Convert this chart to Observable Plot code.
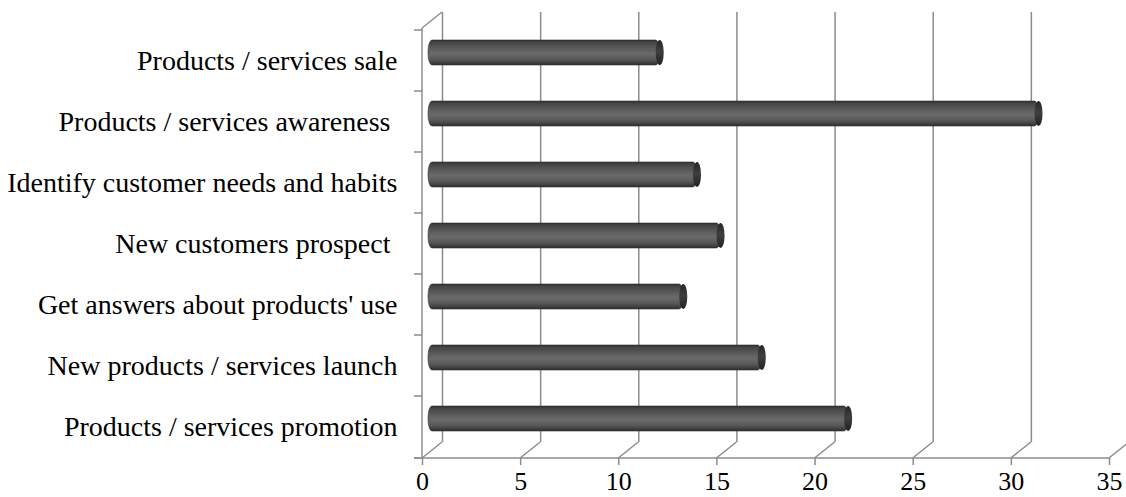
<!DOCTYPE html>
<html><head><meta charset="utf-8">
<script src="https://cdn.jsdelivr.net/npm/d3@7"></script>
<script src="https://cdn.jsdelivr.net/npm/@observablehq/plot@0.6"></script>
<style>
body{margin:0;background:#fff}
svg text{white-space:pre}
</style>
</head><body><div id="chart"></div>
<script>
const categories = [
  "Products / services sale",
  "Products / services awareness ",
  "Identify customer needs and habits",
  "New customers prospect ",
  "Get answers about products' use",
  "New products / services launch",
  "Products / services promotion"
];
const values = [11.6, 30.9, 13.5, 14.7, 12.8, 16.8, 21.2];
const xTicks = [0, 5, 10, 15, 20, 25, 30, 35];

const data = categories.map((c, i) => ({category: c, value: values[i]}));

const W = 1126, H = 497;
const BX = 20, BY = -16;   // back wall offset
const MX = 10, MY = -8;    // bar depth offset
const grid = "#8c8c8c";

function defs() {
  const svg = d3.create("svg:defs");
  const g = svg.append("linearGradient").attr("id", "cyl")
    .attr("x1", 0).attr("y1", 0).attr("x2", 0).attr("y2", 1);
  [[0, "#2c2c2c"], [0.08, "#434343"], [0.35, "#5c5c5c"], [0.55, "#6a6a6a"], [0.78, "#575757"], [0.93, "#3c3c3c"], [1, "#2a2a2a"]]
    .forEach(([o, c]) => g.append("stop").attr("offset", o).attr("stop-color", c));
  const c = svg.append("linearGradient").attr("id", "cap")
    .attr("x1", 0).attr("y1", 0).attr("x2", 0).attr("y2", 1);
  [[0, "#262626"], [0.45, "#3f3f3f"], [1, "#222"]]
    .forEach(([o, col]) => c.append("stop").attr("offset", o).attr("stop-color", col));
  return svg.node();
}

function furniture(index, scales, vals, dims) {
  const x = scales.x, y = scales.y;
  const y0 = dims.height - dims.marginBottom, yT = dims.marginTop;
  const g = d3.create("svg:g").attr("stroke", grid).attr("stroke-width", 1.5).attr("fill", "none");
  const xa = x(xTicks[0]), xb = x(xTicks[xTicks.length - 1]);
  g.append("line").attr("x1", xa - 8).attr("x2", xb).attr("y1", y0).attr("y2", y0);
  xTicks.forEach(t => g.append("line").attr("x1", x(t)).attr("y1", y0).attr("x2", x(t) + BX).attr("y2", y0 + BY));
  g.append("line").attr("x1", xa).attr("x2", xa).attr("y1", yT).attr("y2", y0);
  g.append("line").attr("x1", xa).attr("y1", yT).attr("x2", xa + BX).attr("y2", yT + BY);
  const bounds = categories.map(c => y(c));
  bounds.push(y0);
  bounds.forEach(b => g.append("line").attr("x1", xa - 8).attr("x2", xa).attr("y1", b).attr("y2", b));
  return g.node();
}

const chart = Plot.plot({
  width: W,
  height: H,
  marginLeft: 422,
  marginRight: 17,
  marginTop: 28,
  marginBottom: 39,
  style: {fontFamily: "'Liberation Serif', 'Times New Roman', serif", fontSize: "28px", color: "#000", background: "#fff"},
  x: {domain: [0, 35]},
  y: {domain: categories, padding: 0},
  marks: [
    defs,
    Plot.ruleX(xTicks, {x: d => d, dx: BX, dy: BY, stroke: grid, strokeWidth: 1.5}),
    furniture,
    Plot.barX(data, {y: "category", x1: 0, x2: "value", dx: MX, dy: MY,
      insetTop: 18, insetBottom: 18, insetLeft: -4, insetRight: 0,
      rx: 4, ry: 12, fill: "url(#cyl)", stroke: "#333", strokeWidth: 0.6}),
    Plot.barX(data, {y: "category", x1: "value", x2: "value", dx: MX, dy: MY,
      insetTop: 18, insetBottom: 18, insetLeft: -4, insetRight: -4,
      rx: 4, ry: 12, fill: "url(#cap)"}),
    Plot.axisY({tickSize: 0, tickPadding: 25, label: null, fill: "#000"}),
    Plot.axisX({ticks: xTicks, tickSize: 7, tickPadding: 6, label: null, stroke: grid, strokeWidth: 1.5, fill: "#000", fontSize: 26})
  ]
});
document.getElementById("chart").appendChild(chart);
</script>
</body></html>
